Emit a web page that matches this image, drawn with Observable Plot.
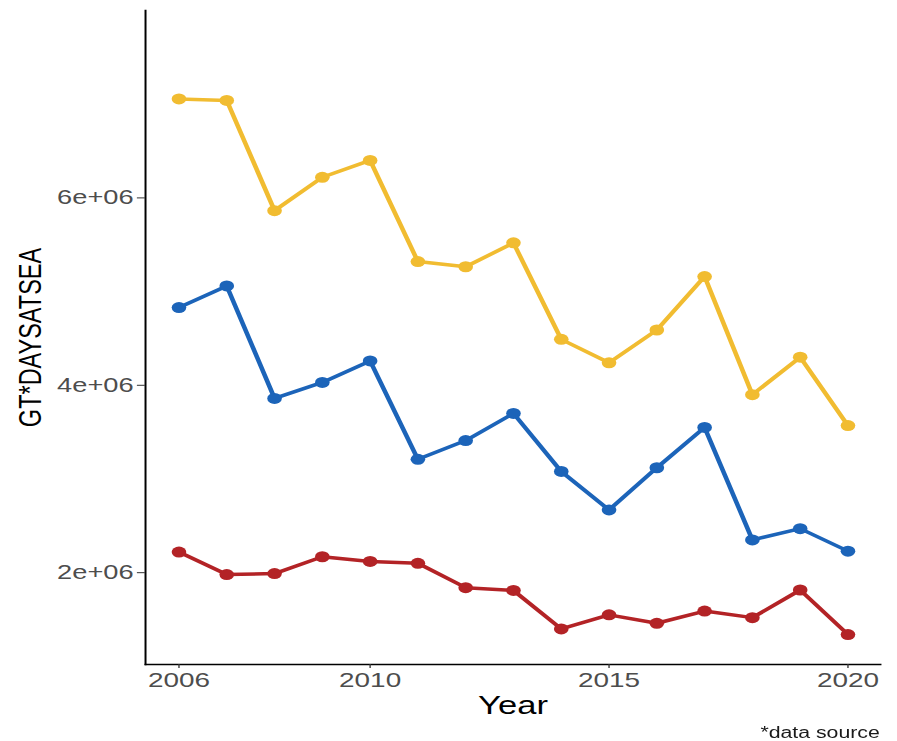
<!DOCTYPE html>
<html>
<head>
<meta charset="utf-8">
<script src="https://cdn.jsdelivr.net/npm/d3@7"></script>
<script src="https://cdn.jsdelivr.net/npm/@observablehq/plot@0.6"></script>
<style>
  html, body { margin: 0; background: #ffffff; }
  /* the figure is laid out narrow and widened horizontally */
  #chart {
    width: 675px;
    transform: scale(1.329, 1);
    transform-origin: 0 0;
    font-family: "Liberation Sans", Arial, Helvetica, sans-serif;
  }
  #chart svg { overflow: visible; }
  .caption {
    text-align: right;
    padding-right: 13px;
    font-size: 16px;
    line-height: 18px;
    color: #1a1a1a;
    margin-top: 4px;
  }
</style>
</head>
<body>
<div id="chart"></div>
<script>
// Years on the x axis
const years = [2006, 2007, 2008, 2009, 2010, 2011, 2012, 2013, 2014, 2015, 2016, 2017, 2018, 2019, 2020];

// GT*days at sea per year, one array per series
const seriesHigh = [7.056e6, 7.04e6, 5.864e6, 6.22e6, 6.40e6, 5.32e6, 5.265e6, 5.52e6, 4.49e6, 4.24e6, 4.59e6, 5.16e6, 3.90e6, 4.30e6, 3.57e6];
const seriesMid  = [4.83e6, 5.06e6, 3.86e6, 4.03e6, 4.26e6, 3.21e6, 3.41e6, 3.70e6, 3.08e6, 2.67e6, 3.12e6, 3.55e6, 2.35e6, 2.47e6, 2.23e6];
const seriesLow  = [2.22e6, 1.98e6, 1.99e6, 2.17e6, 2.12e6, 2.10e6, 1.84e6, 1.81e6, 1.40e6, 1.55e6, 1.46e6, 1.59e6, 1.52e6, 1.815e6, 1.34e6];

const seriesNames = ["high", "mid", "low"];
const seriesColors = ["#F1BC31", "#1C64B9", "#B32326"];

// Axis ticks and their labels
const xTicks = [2006, 2010, 2015, 2020];
const yTicks = [2e6, 4e6, 6e6];
const yTickLabels = ["2e+06", "4e+06", "6e+06"];

const xLabel = "Year";
const yLabel = "GT*DAYSATSEA";
const captionText = "*data source";

// Long-format table for the marks
const allSeries = [seriesHigh, seriesMid, seriesLow];
const rows = [];
seriesNames.forEach((name, i) => {
  allSeries[i].forEach((v, j) => rows.push({series: name, year: years[j], value: v}));
});

const tickText = "#4d4d4d";
const fontFamily = '"Liberation Sans", Arial, Helvetica, sans-serif';

const plot = Plot.plot({
  width: 675,
  height: 720,
  marginTop: 10,
  marginLeft: 109,
  marginRight: 13,
  marginBottom: 56,
  style: {fontFamily, background: "white", color: "black"},
  x: {domain: [2005.3, 2020.68]},
  y: {domain: [1.02e6, 8.0e6]},
  color: {domain: seriesNames, range: seriesColors},
  marks: [
    // axis lines on the left and bottom of the panel
    Plot.frame({anchor: "left", stroke: "black", strokeWidth: 1.5}),
    Plot.frame({anchor: "bottom", stroke: "black", strokeWidth: 1.5}),
    // tick marks and tick labels
    Plot.axisX({
      ticks: xTicks, tickFormat: d => String(d), tickSize: 4, tickPadding: 4,
      fontSize: 21, fill: tickText, stroke: "#333", label: null
    }),
    Plot.axisY({
      ticks: yTicks, tickFormat: d => yTickLabels[yTicks.indexOf(d)], tickSize: 6, tickPadding: 3,
      fontSize: 20.5, fill: tickText, stroke: "#333", label: null
    }),
    // axis titles
    Plot.axisX({
      ticks: [], tickSize: 0, label: xLabel, labelAnchor: "center", labelArrow: "none",
      labelOffset: 49, fontSize: 26, fill: "black"
    }),
    Plot.axisY({
      ticks: [], tickSize: 0, label: yLabel, labelAnchor: "center", labelArrow: "none",
      labelOffset: 95, fontSize: 23.5, fill: "black"
    }),
    // series lines and points
    Plot.line(rows, {x: "year", y: "value", z: "series", stroke: "series", strokeWidth: 3.5}),
    Plot.dot(rows, {x: "year", y: "value", fill: "series", r: 5.5})
  ]
});

const chart = document.getElementById("chart");
chart.appendChild(plot);
const cap = document.createElement("div");
cap.className = "caption";
cap.textContent = captionText;
chart.appendChild(cap);
</script>
</body>
</html>
